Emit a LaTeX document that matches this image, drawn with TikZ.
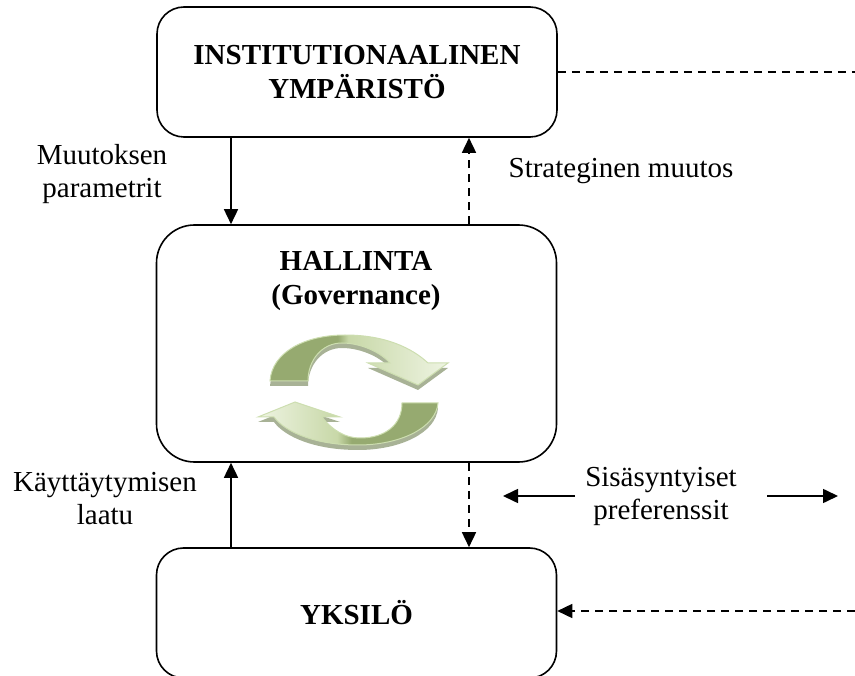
\documentclass[tikz,border=0pt]{standalone}
\usepackage{fontspec}
\setmainfont{Liberation Serif}
\usetikzlibrary{arrows.meta}
\definecolor{tumma}{RGB}{150,170,112}
\definecolor{keski}{RGB}{200,216,168}
\definecolor{vaalea}{RGB}{238,244,226}
\definecolor{reuna}{RGB}{205,222,176}
\definecolor{varjo}{RGB}{168,178,150}
\pgfdeclarehorizontalshading{kierto1}{100bp}{color(0bp)=(tumma); color(25bp)=(tumma); color(44bp)=(tumma); color(47bp)=(keski); color(75bp)=(vaalea); color(100bp)=(vaalea)}
\pgfdeclarehorizontalshading{kierto2}{100bp}{color(0bp)=(vaalea); color(25bp)=(vaalea); color(47bp)=(keski); color(51bp)=(tumma); color(75bp)=(tumma); color(100bp)=(tumma)}

\tikzset{
  laatikko/.style={draw, line width=1.6pt, minimum width=400pt, inner sep=0pt},
  nuoli/.style={line width=1.6pt, -{Triangle[length=15pt,width=14pt]}},
  katko/.style={dash pattern=on 8pt off 6pt},
  teksti/.style={align=center, font=\fontsize{29}{33}\selectfont},
  lihava/.style={align=center, font=\fontsize{29}{34}\selectfont\bfseries},
}

\begin{document}
\begin{tikzpicture}[x=1pt,y=-1pt]
            \useasboundingbox (0,0) rectangle (855,676);
            % laatikot
            \node[laatikko, rounded corners=27pt, minimum height=130pt, lihava] (inst) at (357,72) {INSTITUTIONAALINEN\\YMPÄRISTÖ};
            \node[laatikko, rounded corners=38pt, minimum height=237pt] (hall) at (356.5,343.5) {};
            \node[lihava] (halltxt) at (356,281) {HALLINTA\\(Governance)};
            \node[laatikko, rounded corners=27pt, minimum height=130pt, lihava] (yks) at (356.5,613) {YKSILÖ};

            % tekstit
            \node[teksti] (muut) at (102,174) {Muutoksen\\parametrit};
            \node[teksti] (strat) at (621,171) {Strateginen muutos};
            \node[teksti] (kayt) at (105,499) {Käyttäytymisen\\laatu};
            \node[teksti] (sisa) at (661,496) {Sisäsyntyiset\\preferenssit};

            \coordinate (vas) at (231,0);
            \coordinate (oik) at (469,0);
            \coordinate (reuna) at (855,0);
            \coordinate (alaoik) at (855,611);
            \coordinate (s1) at (575,496);
            \coordinate (s2) at (503,496);
            \coordinate (s3) at (767,496);
            \coordinate (s4) at (838,496);

            % nuolet
            \draw[nuoli] (inst.south -| vas) -- (hall.north -| vas);
            \draw[nuoli, katko] (hall.north -| oik) -- (inst.south -| oik);
            \draw[nuoli] (yks.north -| vas) -- (hall.south -| vas);
            \draw[nuoli, katko] (hall.south -| oik) -- (yks.north -| oik);
            \draw[line width=1.6pt, katko] (inst.east) -- (inst.east -| reuna);
            \draw[nuoli, katko] (alaoik) -- (alaoik -| yks.east);
            \draw[nuoli] (s1) -- (s2);
            \draw[nuoli] (s3) -- (s4);

            % kiertonuolet
            \fill[varjo, yshift=-5pt] (270,381) .. controls (272,352) and (305,335) .. (345,335) .. controls (385,335) and (412,348) .. (428,363) -- (448,363) -- (418,385) -- (368,363) -- (390,363) .. controls (378,350) and (358,343) .. (342,343) .. controls (322,343) and (308,360) .. (308,381) -- cycle;
            \shade[shading=kierto1, draw=reuna, line width=1pt] (270,381) .. controls (272,352) and (305,335) .. (345,335) .. controls (385,335) and (412,348) .. (428,363) -- (448,363) -- (418,385) -- (368,363) -- (390,363) .. controls (378,350) and (358,343) .. (342,343) .. controls (322,343) and (308,360) .. (308,381) -- cycle;
            \fill[varjo, yshift=-5pt] (438,403) .. controls (436,428) and (400,445) .. (358,445) .. controls (315,445) and (285,432) .. (274,417) -- (258,417) -- (295,402) -- (340,417) -- (322,417) .. controls (332,430) and (345,438) .. (360,438) .. controls (385,438) and (402,425) .. (402,403) -- cycle;
            \shade[shading=kierto2, draw=reuna, line width=1pt] (438,403) .. controls (436,428) and (400,445) .. (358,445) .. controls (315,445) and (285,432) .. (274,417) -- (258,417) -- (295,402) -- (340,417) -- (322,417) .. controls (332,430) and (345,438) .. (360,438) .. controls (385,438) and (402,425) .. (402,403) -- cycle;
        \end{tikzpicture}
\end{document}
